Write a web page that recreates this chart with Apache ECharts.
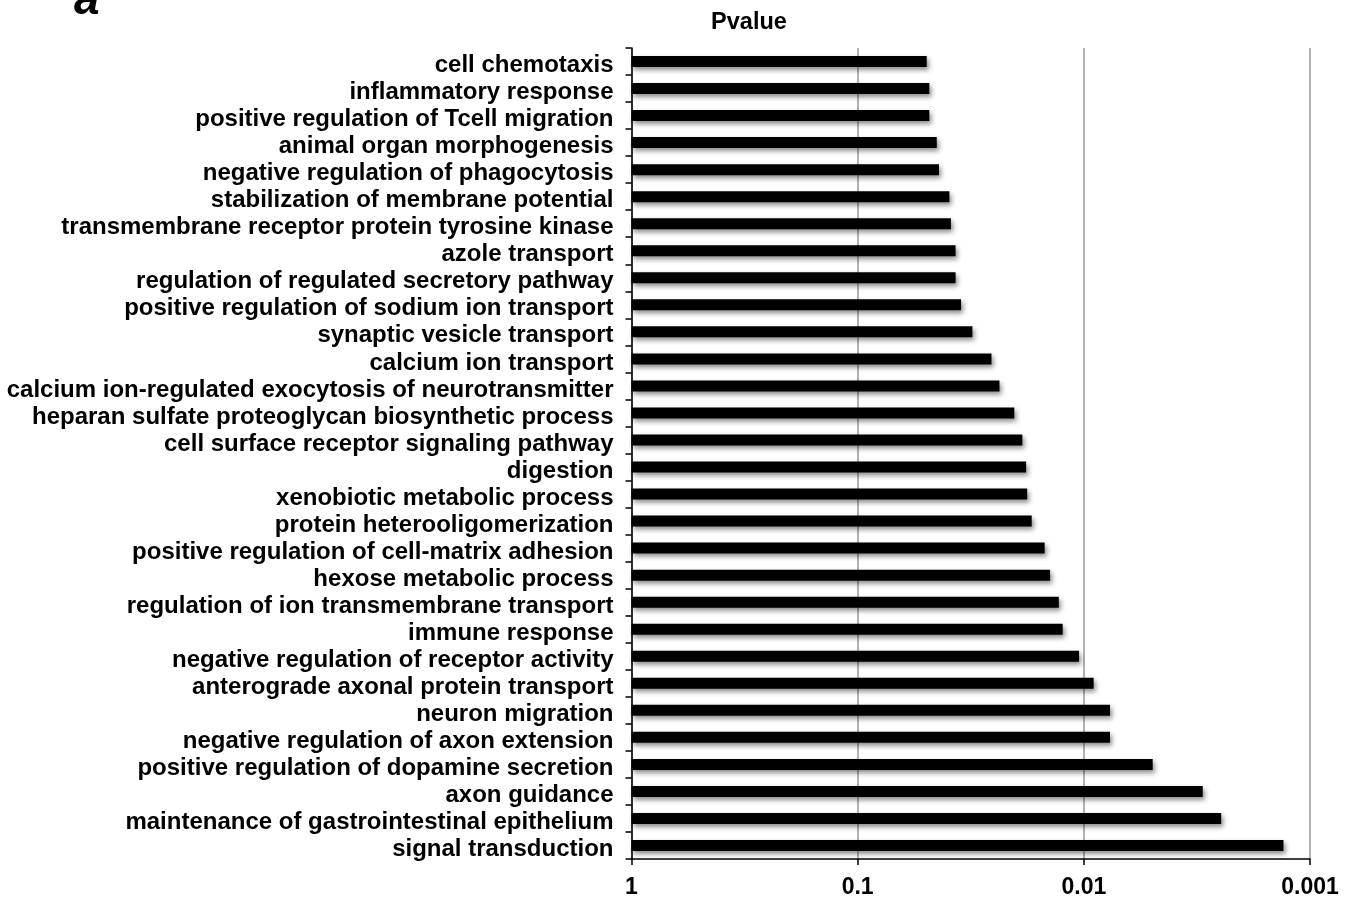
<!DOCTYPE html>
<html>
<head>
<meta charset="utf-8">
<script src="https://cdn.jsdelivr.net/npm/echarts@6/dist/echarts.min.js"></script>
<style>
html,body{margin:0;padding:0;background:#fff;}
#chart{width:1353px;height:899px;}
</style>
</head>
<body>
<div id="chart"></div>
<script>
const categories = [
  "cell chemotaxis",
  "inflammatory response",
  "positive regulation of Tcell migration",
  "animal organ morphogenesis",
  "negative regulation of phagocytosis",
  "stabilization of membrane potential",
  "transmembrane receptor protein tyrosine kinase",
  "azole transport",
  "regulation of regulated secretory pathway",
  "positive regulation of sodium ion transport",
  "synaptic vesicle transport",
  "calcium ion transport",
  "calcium ion-regulated exocytosis of neurotransmitter",
  "heparan sulfate proteoglycan biosynthetic process",
  "cell surface receptor signaling pathway",
  "digestion",
  "xenobiotic metabolic process",
  "protein heterooligomerization",
  "positive regulation of cell-matrix adhesion",
  "hexose metabolic process",
  "regulation of ion transmembrane transport",
  "immune response",
  "negative regulation of receptor activity",
  "anterograde axonal protein transport",
  "neuron migration",
  "negative regulation of axon extension",
  "positive regulation of dopamine secretion",
  "axon guidance",
  "maintenance of gastrointestinal epithelium",
  "signal transduction"
];
const pvalues = [
  0.0495, 0.0482, 0.0482, 0.0447, 0.0437, 0.0393, 0.0387, 0.0369, 0.0369, 0.0349,
  0.0311, 0.0256, 0.0236, 0.0203, 0.0187, 0.0180, 0.0178, 0.0170, 0.0149, 0.0141,
  0.0129, 0.0124, 0.0105, 0.00905, 0.00766, 0.00766, 0.00496, 0.00298, 0.00247, 0.00131
];
const tickLabels = {"1": "1", "0.1": "0.1", "0.01": "0.01", "0.001": "0.001"};
const titleText = "Pvalue";
const panelLetter = "a";

const FONT = "Liberation Sans";
const chart = echarts.init(document.getElementById('chart'), null, {renderer: 'canvas'});
chart.setOption({
  animation: false,
  backgroundColor: '#fff',
  title: {
    text: titleText,
    left: 744, top: 6,
    textAlign: 'center',
    textStyle: {fontFamily: FONT, fontWeight: 'bold', fontSize: 23.5, color: '#000'}
  },
  graphic: [{
    type: 'text', left: 74, top: -22,
    style: {text: panelLetter, font: 'italic bold 46px "Liberation Sans"', fill: '#000'}
  }],
  grid: {left: 631.5, right: 43, top: 48, bottom: 40, containLabel: false},
  xAxis: {
    type: 'log', logBase: 10, min: 0.001, max: 1, inverse: true, position: 'bottom',
    axisLine: {show: true, lineStyle: {color: '#000', width: 1.5}},
    axisTick: {show: true, inside: false, length: 6, lineStyle: {color: '#000', width: 1.5}},
    minorTick: {show: false},
    splitLine: {show: true, lineStyle: {color: '#999', width: 1.5}},
    axisLabel: {
      margin: 17, color: '#000', fontFamily: FONT, fontWeight: 'bold', fontSize: 23,
      formatter: function (v) { const k = String(Number(Number(v).toPrecision(1))); return tickLabels[k] !== undefined ? tickLabels[k] : k; }
    }
  },
  yAxis: {
    type: 'category', data: categories, inverse: true,
    axisLine: {show: true, lineStyle: {color: '#000', width: 1.5}},
    axisTick: {show: true, inside: false, length: 6, interval: 0, alignWithLabel: false, lineStyle: {color: '#000', width: 1.5}},
    splitLine: {show: false},
    axisLabel: {
      margin: 18, interval: 0,
      formatter: function (v) { return '{l|' + v + '}'; },
      rich: {
        l: {color: '#000', fontFamily: FONT, fontWeight: 'bold', fontSize: 24, padding: [8, 0, 0, 0]}
      }
    }
  },
  series: [{
    type: 'bar',
    data: pvalues,
    barWidth: 11,
    itemStyle: {
      color: '#000',
      shadowColor: 'rgba(0,0,0,0.45)', shadowBlur: 5, shadowOffsetX: 2, shadowOffsetY: 3
    }
  }]
});
</script>
</body>
</html>
